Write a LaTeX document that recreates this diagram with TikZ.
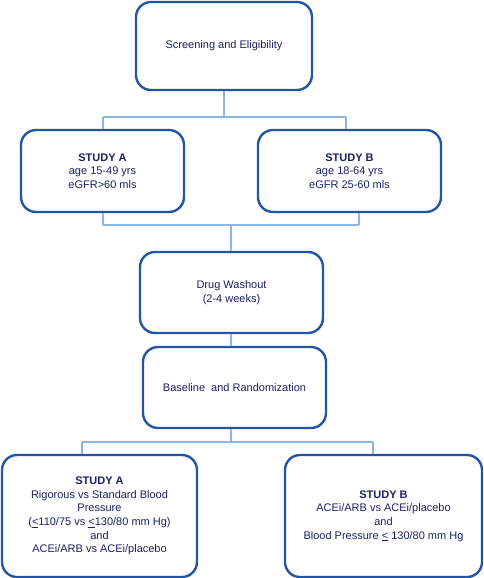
\documentclass[tikz,border=0pt]{standalone}
\usepackage{fontspec}
\setmainfont{Liberation Sans}
\definecolor{boxblue}{RGB}{35,85,165}
\definecolor{linkblue}{RGB}{142,180,227}
\definecolor{txtnavy}{RGB}{28,33,96}
\tikzset{
  flowbox/.style={draw=boxblue, line width=2.4pt, rounded corners=15pt, fill=white,
    text=txtnavy, align=center, inner sep=0pt,
    font=\fontsize{11}{13.6}\selectfont},
  conn/.style={draw=linkblue, line width=1.3pt}
}
\begin{document}
\begin{tikzpicture}[x=1pt,y=-1pt]
\useasboundingbox (0,0) rectangle (484,578);
% nodes
\node[flowbox, minimum width=176pt, minimum height=88pt] (scr) at (224,46) {Screening and Eligibility};
\node[flowbox, minimum width=163pt, minimum height=82pt] (ta) at (102.5,171) {\textbf{STUDY A}\\age 15-49 yrs\\eGFR>60 mls};
\node[flowbox, minimum width=183pt, minimum height=82pt] (tb) at (349.5,171) {\textbf{STUDY B}\\age 18-64 yrs\\eGFR 25-60 mls};
\node[flowbox, minimum width=183pt, minimum height=81pt] (wash) at (231.5,292.5) {Drug Washout\\(2-4 weeks)};
\node[flowbox, minimum width=183pt, minimum height=81pt] (base) at (234.5,387.5) {Baseline\ \ and Randomization};
\node[flowbox, minimum width=195pt, minimum height=122pt] (ba) at (99.5,516) {\textbf{STUDY A}\\Rigorous vs Standard Blood\\Pressure\\(\underline{<}110/75 vs \underline{<}130/80 mm Hg)\\and\\ACEi/ARB vs ACEi/placebo};
\node[flowbox, minimum width=197pt, minimum height=122pt] (bb) at (383.5,516) {\textbf{STUDY B}\\ACEi/ARB vs ACEi/placebo\\and\\Blood Pressure \underline{<} 130/80 mm Hg};
% junctions
\coordinate (j1) at (224,117);
\coordinate (j1a) at (103,117);
\coordinate (j1b) at (346,117);
\coordinate (j2a) at (103,225);
\coordinate (j2b) at (359,225);
\coordinate (j2) at (231,225);
\coordinate (j3) at (231,442);
\coordinate (j3a) at (82,442);
\coordinate (j3b) at (373,442);
% connectors
\begin{scope}[on background layer/.style={}]
\draw[conn] (scr.south) -- (j1);
\draw[conn] (j1a) -- (j1b);
\draw[conn] (j1a) -- (j1a |- ta.north);
\draw[conn] (j1b) -- (j1b |- tb.north);
\draw[conn] (j2a |- ta.south) -- (j2a);
\draw[conn] (j2b |- tb.south) -- (j2b);
\draw[conn] (j2a) -- (j2b);
\draw[conn] (j2) -- (j2 |- wash.north);
\draw[conn] (j2 |- wash.south) -- (j2 |- base.north);
\draw[conn] (j3 |- base.south) -- (j3);
\draw[conn] (j3a) -- (j3b);
\draw[conn] (j3a) -- (j3a |- ba.north);
\draw[conn] (j3b) -- (j3b |- bb.north);
\end{scope}
\end{tikzpicture}
\end{document}
